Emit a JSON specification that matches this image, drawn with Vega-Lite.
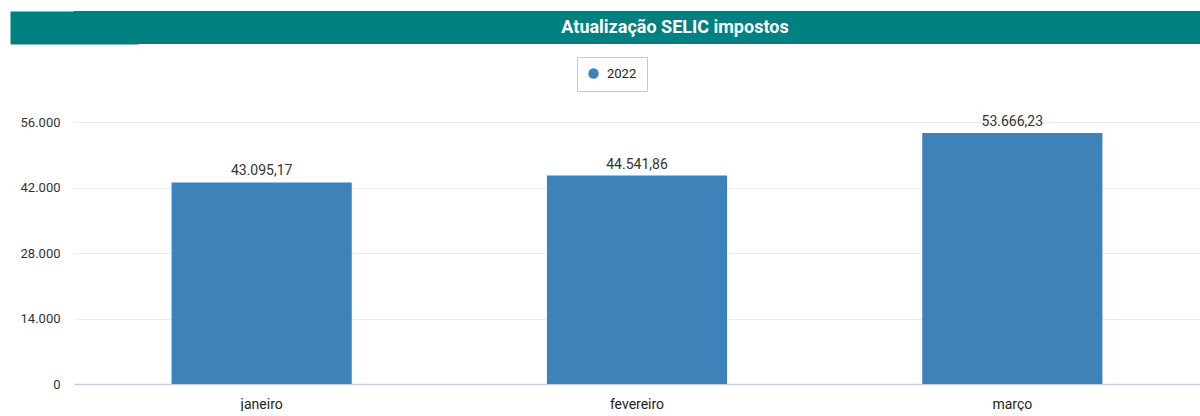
{
  "$schema": "https://vega.github.io/schema/vega-lite/v6.json",
  "padding": {"left": 10, "top": 11, "right": 0, "bottom": 0},
  "background": "white",
  "config": {
    "locale": {"number": {"decimal": ",", "thousands": ".", "grouping": [3], "currency": ["R$", ""]}},
    "font": "Roboto, sans-serif",
    "view": {"stroke": null}
  },
  "spacing": 70,
  "vconcat": [
    {
      "width": 1202,
      "height": 33,
      "view": {"fill": "#008080", "stroke": null},
      "data": {"values": [{"titulo": "Atualização SELIC impostos"}]},
      "mark": {"type": "text", "color": "white", "fontWeight": "bold", "fontSize": 18, "baseline": "middle", "align": "center"},
      "encoding": {
        "text": {"field": "titulo", "type": "nominal"},
        "y": {
          "field": "titulo", "type": "nominal",
          "scale": {"paddingInner": 0, "paddingOuter": 0},
          "axis": {"title": null, "labels": false, "ticks": false, "grid": false, "domain": true, "domainColor": "#008080", "domainWidth": 128, "domainCap": "butt", "minExtent": 0, "maxExtent": 64}
        }
      }
    },
    {
      "width": 1126,
      "height": 262,
      "data": {"values": [
        {"mes": "janeiro", "ano": "2022", "valor": 43095.17},
        {"mes": "fevereiro", "ano": "2022", "valor": 44541.86},
        {"mes": "março", "ano": "2022", "valor": 53666.23}
      ]},
      "encoding": {
        "x": {
          "field": "mes", "type": "nominal", "sort": null,
          "scale": {"paddingInner": 0.52, "paddingOuter": 0.26},
          "axis": {"title": null, "labelAngle": 0, "ticks": false, "domainColor": "#c8cce2", "domainWidth": 1.5, "labelPadding": 13, "labelFontSize": 14, "labelColor": "#222", "grid": false}
        },
        "y": {
          "field": "valor", "type": "quantitative",
          "scale": {"domain": [0, 56000], "nice": false},
          "axis": {"title": null, "values": [0, 14000, 28000, 42000, 56000], "format": ",.0f", "domain": false, "ticks": false, "labelPadding": 14, "labelFontSize": 13, "labelColor": "#333", "gridColor": "#ececec", "minExtent": 64, "maxExtent": 64}
        }
      },
      "layer": [
        {
          "mark": {"type": "bar"},
          "encoding": {
            "color": {
              "field": "ano", "type": "nominal",
              "scale": {"range": ["#3d82b8"]},
              "legend": {"orient": "none", "legendX": 503, "legendY": 46, "title": null, "strokeColor": "#c8c8c8", "padding": 10, "symbolType": "circle", "symbolSize": 110, "labelFontSize": 13, "labelColor": "#222", "labelOffset": 7, "direction": "horizontal"}
            }
          }
        },
        {
          "mark": {"type": "text", "baseline": "alphabetic", "dy": -7, "fontSize": 14, "color": "#333"},
          "encoding": {"text": {"field": "valor", "type": "quantitative", "format": ",.2f"}}
        }
      ]
    }
  ]
}
